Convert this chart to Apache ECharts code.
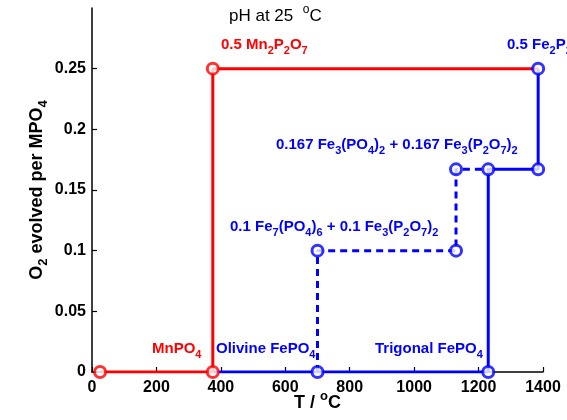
<!DOCTYPE html>
<html>
<head>
<meta charset="utf-8">
<script src="https://cdn.jsdelivr.net/npm/echarts@6/dist/echarts.min.js"></script>
<style>
  html, body { margin: 0; padding: 0; background: #fff; }
  #chart { width: 567px; height: 420px; }
</style>
</head>
<body>
<div id="chart"></div>
<script>
// phase boundaries
const redLineX = [25, 375, 375, 1385];
const redLineY = [0, 0, 0.25, 0.25];
const blueLineX = [375, 700, 1230, 1230, 1385, 1385];
const blueLineY = [0, 0, 0, 0.167, 0.167, 0.25];
const dashLineX = [700, 700, 1130, 1130, 1230];
const dashLineY = [0, 0.1, 0.1, 0.167, 0.167];
const redMarkX = [25, 375, 375];
const redMarkY = [0, 0, 0.25];
const blueMarkX = [700, 1230, 1230, 1385, 1385, 700, 1130, 1130];
const blueMarkY = [0, 0, 0.167, 0.167, 0.25, 0.1, 0.1, 0.167];
const yTicks = [0, 0.05, 0.1, 0.15, 0.2, 0.25];

const RED = "#ff0000";
const BLUE = "#0000ff";

function pairs(xs, ys) {
  return xs.map((x, i) => [x, ys[i]]);
}

// "Mn_2P_2O_7" -> rich text, _x subscript, ^x superscript
function rich(str) {
  let out = "";
  let parts = str.split(/(_[^_ ]|\^[^\^ ])/);
  for (let p of parts) {
    if (!p) continue;
    if (p[0] === "_") out += "{s|" + p.slice(1) + "}";
    else if (p[0] === "^") out += "{u|" + p.slice(1) + "}";
    else out += "{a|" + p + "}";
  }
  return out;
}

// key is "color" for axis names, "fill" for graphic text
function richStyle(size, color, weight, key) {
  key = key || "color";
  const mk = (fs, va) => {
    let o = { fontSize: fs, fontWeight: weight, lineHeight: size + 8, verticalAlign: va };
    o[key] = color;
    return o;
  };
  return {
    a: mk(size, "middle"),
    s: mk(Math.round(size * 0.72), "bottom"),
    u: mk(Math.round(size * 0.72), "top")
  };
}

function note(x, y, str, color, size, weight, font) {
  return {
    type: "text",
    left: x,
    top: y,
    z: 10,
    style: {
      text: rich(str),
      fontFamily: font || "Liberation Sans",
      rich: richStyle(size, color, weight, "fill")
    }
  };
}

const chart = echarts.init(document.getElementById("chart"));

const markStyle = (color) => ({
  type: "scatter",
  symbol: "circle",
  symbolSize: 11,
  z: 5,
  itemStyle: { color: "#fff", borderColor: color, borderWidth: 3 }
});

chart.setOption({
  animation: false,
  grid: { left: 92, right: 24, top: 8, bottom: 48, containLabel: false, outerBoundsMode: "none" },
  xAxis: {
    type: "value",
    min: 0,
    max: 1400,
    interval: 200,
    name: rich("T / ^oC"),
    nameLocation: "middle",
    nameGap: 18,
    nameMoveOverlap: false,
    nameTextStyle: { fontFamily: "Liberation Sans", rich: richStyle(18, "#000", "bold") },
    axisLine: { show: true, lineStyle: { color: "#000", width: 1.5 } },
    axisTick: { inside: true, length: 5, lineStyle: { color: "#000", width: 1.2 } },
    axisLabel: {
      color: "#000", fontSize: 16, fontWeight: "bold", fontFamily: "Liberation Sans", margin: 8,
      formatter: (v) => String(v)
    },
    splitLine: { show: false }
  },
  yAxis: {
    type: "value",
    min: 0,
    max: 0.3,
    name: rich("O_2 evolved per MPO_4"),
    nameLocation: "middle",
    nameGap: 42,
    nameMoveOverlap: false,
    nameTextStyle: { fontFamily: "Liberation Sans", rich: richStyle(18, "#000", "bold") },
    axisLine: { show: true, lineStyle: { color: "#000", width: 1.5 } },
    axisTick: { inside: true, length: 5, customValues: yTicks, lineStyle: { color: "#000", width: 1.2 } },
    axisLabel: {
      customValues: yTicks, color: "#000", fontSize: 16, fontWeight: "bold", fontFamily: "Liberation Sans", margin: 6,
      formatter: (v) => String(v)
    },
    splitLine: { show: false }
  },
  series: [
    {
      type: "line",
      data: pairs(blueLineX, blueLineY),
      symbol: "none",
      lineStyle: { color: BLUE, width: 3 },
      z: 2
    },
    {
      type: "line",
      data: pairs(dashLineX, dashLineY),
      symbol: "none",
      lineStyle: { color: BLUE, width: 3, type: [7, 5] },
      z: 2
    },
    {
      type: "line",
      data: pairs(redLineX, redLineY),
      symbol: "none",
      lineStyle: { color: RED, width: 3 },
      z: 3
    },
    Object.assign(markStyle(BLUE), { data: pairs(blueMarkX, blueMarkY) }),
    Object.assign(markStyle(RED), { data: pairs(redMarkX, redMarkY) })
  ],
  graphic: [
    note(229, 4, "pH at 25  ^oC", "#000", 17, "normal", "Open Sans"),
    note(221, 37, "0.5 Mn_2P_2O_7", RED, 15, "bold"),
    note(507, 37, "0.5 Fe_2P_2O_7", BLUE, 15, "bold"),
    note(276, 137, "0.167 Fe_3(PO_4)_2 + 0.167 Fe_3(P_2O_7)_2", BLUE, 15, "bold"),
    note(230, 219, "0.1 Fe_7(PO_4)_6 + 0.1 Fe_3(P_2O_7)_2", BLUE, 15, "bold"),
    note(152, 341, "MnPO_4", RED, 15, "bold"),
    note(216, 341, "Olivine FePO_4", BLUE, 15, "bold"),
    note(375, 341, "Trigonal FePO_4", BLUE, 15, "bold")
  ]
});
</script>
</body>
</html>
